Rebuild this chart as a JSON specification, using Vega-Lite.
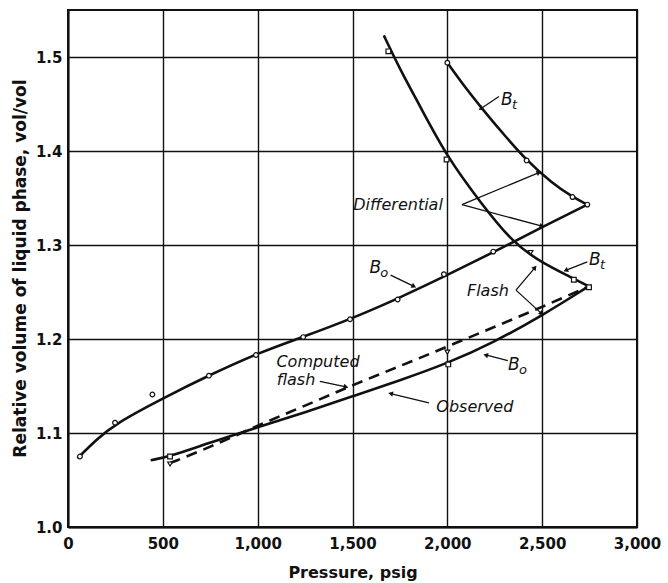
{
  "$schema": "https://vega.github.io/schema/vega-lite/v6.json",
  "width": 569,
  "height": 517,
  "autosize": "none",
  "padding": {"left": 68, "top": 10, "right": 31, "bottom": 56},
  "background": "white",
  "config": {
    "view": {"stroke": "#111", "strokeWidth": 2},
    "axis": {
      "grid": true, "gridColor": "#111", "gridWidth": 1.4, "gridOpacity": 1,
      "domainColor": "#111", "domainWidth": 2, "ticks": false,
      "labelFont": "DejaVu Sans", "labelFontWeight": "bold", "labelFontSize": 15, "labelColor": "#111",
      "titleFont": "DejaVu Sans", "titleFontWeight": "bold", "titleFontSize": 16, "titleColor": "#111",
      "labelOverlap": false, "labelFlush": false
    }
  },
  "datasets": {
    "curves": [
      {"series": "diffBo", "P": 50, "V": 1.073}, {"series": "diffBo", "P": 150, "V": 1.093}, {"series": "diffBo", "P": 250, "V": 1.110},
      {"series": "diffBo", "P": 500, "V": 1.137}, {"series": "diffBo", "P": 750, "V": 1.162}, {"series": "diffBo", "P": 1000, "V": 1.185},
      {"series": "diffBo", "P": 1250, "V": 1.203}, {"series": "diffBo", "P": 1500, "V": 1.222}, {"series": "diffBo", "P": 1750, "V": 1.244},
      {"series": "diffBo", "P": 2000, "V": 1.268}, {"series": "diffBo", "P": 2250, "V": 1.293}, {"series": "diffBo", "P": 2500, "V": 1.319},
      {"series": "diffBo", "P": 2738, "V": 1.343},
      {"series": "diffBt", "P": 2000, "V": 1.494}, {"series": "diffBt", "P": 2100, "V": 1.466}, {"series": "diffBt", "P": 2200, "V": 1.441},
      {"series": "diffBt", "P": 2300, "V": 1.417}, {"series": "diffBt", "P": 2418, "V": 1.390}, {"series": "diffBt", "P": 2550, "V": 1.366},
      {"series": "diffBt", "P": 2660, "V": 1.351}, {"series": "diffBt", "P": 2738, "V": 1.343},
      {"series": "flashBt", "P": 1665, "V": 1.523}, {"series": "flashBt", "P": 1750, "V": 1.487}, {"series": "flashBt", "P": 1850, "V": 1.450},
      {"series": "flashBt", "P": 2000, "V": 1.393}, {"series": "flashBt", "P": 2176, "V": 1.345}, {"series": "flashBt", "P": 2346, "V": 1.302},
      {"series": "flashBt", "P": 2500, "V": 1.281}, {"series": "flashBt", "P": 2660, "V": 1.265}, {"series": "flashBt", "P": 2745, "V": 1.256},
      {"series": "observed", "P": 436, "V": 1.071}, {"series": "observed", "P": 538, "V": 1.075}, {"series": "observed", "P": 750, "V": 1.090},
      {"series": "observed", "P": 1000, "V": 1.106}, {"series": "observed", "P": 1250, "V": 1.122}, {"series": "observed", "P": 1500, "V": 1.139},
      {"series": "observed", "P": 1750, "V": 1.156}, {"series": "observed", "P": 2000, "V": 1.174}, {"series": "observed", "P": 2250, "V": 1.197},
      {"series": "observed", "P": 2500, "V": 1.225}, {"series": "observed", "P": 2745, "V": 1.256},
      {"series": "computed", "P": 538, "V": 1.068}, {"series": "computed", "P": 750, "V": 1.085}, {"series": "computed", "P": 1000, "V": 1.108},
      {"series": "computed", "P": 1250, "V": 1.129}, {"series": "computed", "P": 1500, "V": 1.151}, {"series": "computed", "P": 1750, "V": 1.171},
      {"series": "computed", "P": 2000, "V": 1.192}, {"series": "computed", "P": 2250, "V": 1.213}, {"series": "computed", "P": 2500, "V": 1.234},
      {"series": "computed", "P": 2745, "V": 1.256}
    ],
    "markers": [
      {"kind": "circle", "P": 63, "V": 1.075}, {"kind": "circle", "P": 248, "V": 1.111}, {"kind": "circle", "P": 445, "V": 1.141},
      {"kind": "circle", "P": 743, "V": 1.161}, {"kind": "circle", "P": 991, "V": 1.183}, {"kind": "circle", "P": 1240, "V": 1.202},
      {"kind": "circle", "P": 1487, "V": 1.221}, {"kind": "circle", "P": 1738, "V": 1.242}, {"kind": "circle", "P": 1982, "V": 1.269},
      {"kind": "circle", "P": 2242, "V": 1.293}, {"kind": "circle", "P": 2738, "V": 1.343}, {"kind": "circle", "P": 2000, "V": 1.494},
      {"kind": "circle", "P": 2418, "V": 1.390}, {"kind": "circle", "P": 2660, "V": 1.351},
      {"kind": "square", "P": 1689, "V": 1.506}, {"kind": "square", "P": 1996, "V": 1.391}, {"kind": "square", "P": 2667, "V": 1.263},
      {"kind": "square", "P": 2747, "V": 1.255}, {"kind": "square", "P": 538, "V": 1.075}, {"kind": "square", "P": 2005, "V": 1.173},
      {"kind": "triangle", "P": 2439, "V": 1.292}, {"kind": "triangle", "P": 538, "V": 1.067}, {"kind": "triangle", "P": 2000, "V": 1.186}
    ],
    "labels": [
      {"text": "Differential", "P": 1740, "V": 1.343},
      {"text": "Flash", "P": 2214, "V": 1.251},
      {"text": "Computed", "P": 1318, "V": 1.176},
      {"text": "flash", "P": 1202, "V": 1.156},
      {"text": "Observed", "P": 2145, "V": 1.128}
    ],
    "symbols": [
      {"P": 2314, "V": 1.454, "sub": "t"},
      {"P": 2778, "V": 1.284, "sub": "t"},
      {"P": 1620, "V": 1.2755, "sub": "o"},
      {"P": 2351, "V": 1.172, "sub": "o"}
    ],
    "arrows": [
      {"P": 2272, "V": 1.458, "P2": 2176, "V2": 1.445, "heading": 236},
      {"P": 2077, "V": 1.343, "P2": 2483, "V2": 1.377, "heading": 67},
      {"P": 2077, "V": 1.343, "P2": 2499, "V2": 1.320, "heading": 105},
      {"P": 1701, "V": 1.268, "P2": 1824, "V2": 1.256, "heading": 116},
      {"P": 2738, "V": 1.282, "P2": 2624, "V2": 1.273, "heading": 248},
      {"P": 2362, "V": 1.252, "P2": 2462, "V2": 1.276, "heading": 40},
      {"P": 2362, "V": 1.252, "P2": 2497, "V2": 1.227, "heading": 133},
      {"P": 1328, "V": 1.155, "P2": 1466, "V2": 1.149, "heading": 102},
      {"P": 2319, "V": 1.177, "P2": 2202, "V2": 1.183, "heading": 284},
      {"P": 1903, "V": 1.132, "P2": 1701, "V2": 1.142, "heading": 284}
    ]
  },
  "layer": [
    {
      "data": {"name": "curves"},
      "transform": [{"filter": "datum.series !== 'computed'"}],
      "mark": {"type": "line", "color": "#111", "strokeWidth": 2.6, "interpolate": "basis"},
      "encoding": {
        "x": {"field": "P", "type": "quantitative", "scale": {"domain": [0, 3000], "nice": false},
          "axis": {"title": "Pressure, psig", "values": [0, 500, 1000, 1500, 2000, 2500, 3000], "format": ",d", "labelPadding": 9, "titleY": 45, "titleBaseline": "middle"}},
        "y": {"field": "V", "type": "quantitative", "scale": {"domain": [1.0, 1.55], "nice": false, "zero": false},
          "axis": {"title": "Relative volume of liquid phase, vol/vol", "titleFontSize": 17, "values": [1.0, 1.1, 1.2, 1.3, 1.4, 1.5], "format": ".1f", "labelPadding": 6, "titleX": -48, "titleY": 258, "titleBaseline": "middle", "titleAlign": "center", "titleAngle": -90}},
        "detail": {"field": "series", "type": "nominal"}
      }
    },
    {
      "data": {"name": "curves"},
      "transform": [{"filter": "datum.series === 'computed'"}],
      "mark": {"type": "line", "color": "#111", "strokeWidth": 2.6, "strokeDash": [11, 7], "interpolate": "basis"},
      "encoding": {
        "x": {"field": "P", "type": "quantitative"},
        "y": {"field": "V", "type": "quantitative"}
      }
    },
    {
      "data": {"name": "arrows"},
      "mark": {"type": "rule", "color": "#111", "strokeWidth": 1.3},
      "encoding": {
        "x": {"field": "P", "type": "quantitative"},
        "y": {"field": "V", "type": "quantitative"},
        "x2": {"field": "P2"},
        "y2": {"field": "V2"}
      }
    },
    {
      "data": {"name": "arrows"},
      "mark": {"type": "point", "shape": "triangle-up", "filled": true, "color": "#111", "size": 30, "opacity": 1},
      "encoding": {
        "x": {"field": "P2", "type": "quantitative"},
        "y": {"field": "V2", "type": "quantitative"},
        "angle": {"field": "heading", "type": "quantitative", "scale": null}
      }
    },
    {
      "data": {"name": "markers"},
      "mark": {"type": "point", "filled": true, "fill": "white", "stroke": "#111", "strokeWidth": 1.2, "size": 22, "opacity": 1},
      "encoding": {
        "x": {"field": "P", "type": "quantitative"},
        "y": {"field": "V", "type": "quantitative"},
        "shape": {"field": "kind", "type": "nominal", "scale": {"domain": ["circle", "square", "triangle"], "range": ["circle", "square", "triangle-down"]}, "legend": null}
      }
    },
    {
      "data": {"name": "labels"},
      "mark": {"type": "text", "font": "DejaVu Sans", "fontStyle": "italic", "fontSize": 16, "color": "#111", "align": "center", "baseline": "middle"},
      "encoding": {
        "x": {"field": "P", "type": "quantitative"},
        "y": {"field": "V", "type": "quantitative"},
        "text": {"field": "text"}
      }
    },
    {
      "data": {"name": "symbols"},
      "mark": {"type": "text", "font": "DejaVu Sans", "fontStyle": "italic", "fontSize": 17, "color": "#111", "align": "center", "baseline": "middle", "text": "B"},
      "encoding": {
        "x": {"field": "P", "type": "quantitative"},
        "y": {"field": "V", "type": "quantitative"}
      }
    },
    {
      "data": {"name": "symbols"},
      "mark": {"type": "text", "font": "DejaVu Sans", "fontStyle": "italic", "fontSize": 13, "color": "#111", "align": "left", "baseline": "middle", "dx": 5, "dy": 5},
      "encoding": {
        "x": {"field": "P", "type": "quantitative"},
        "y": {"field": "V", "type": "quantitative"},
        "text": {"field": "sub"}
      }
    }
  ]
}
